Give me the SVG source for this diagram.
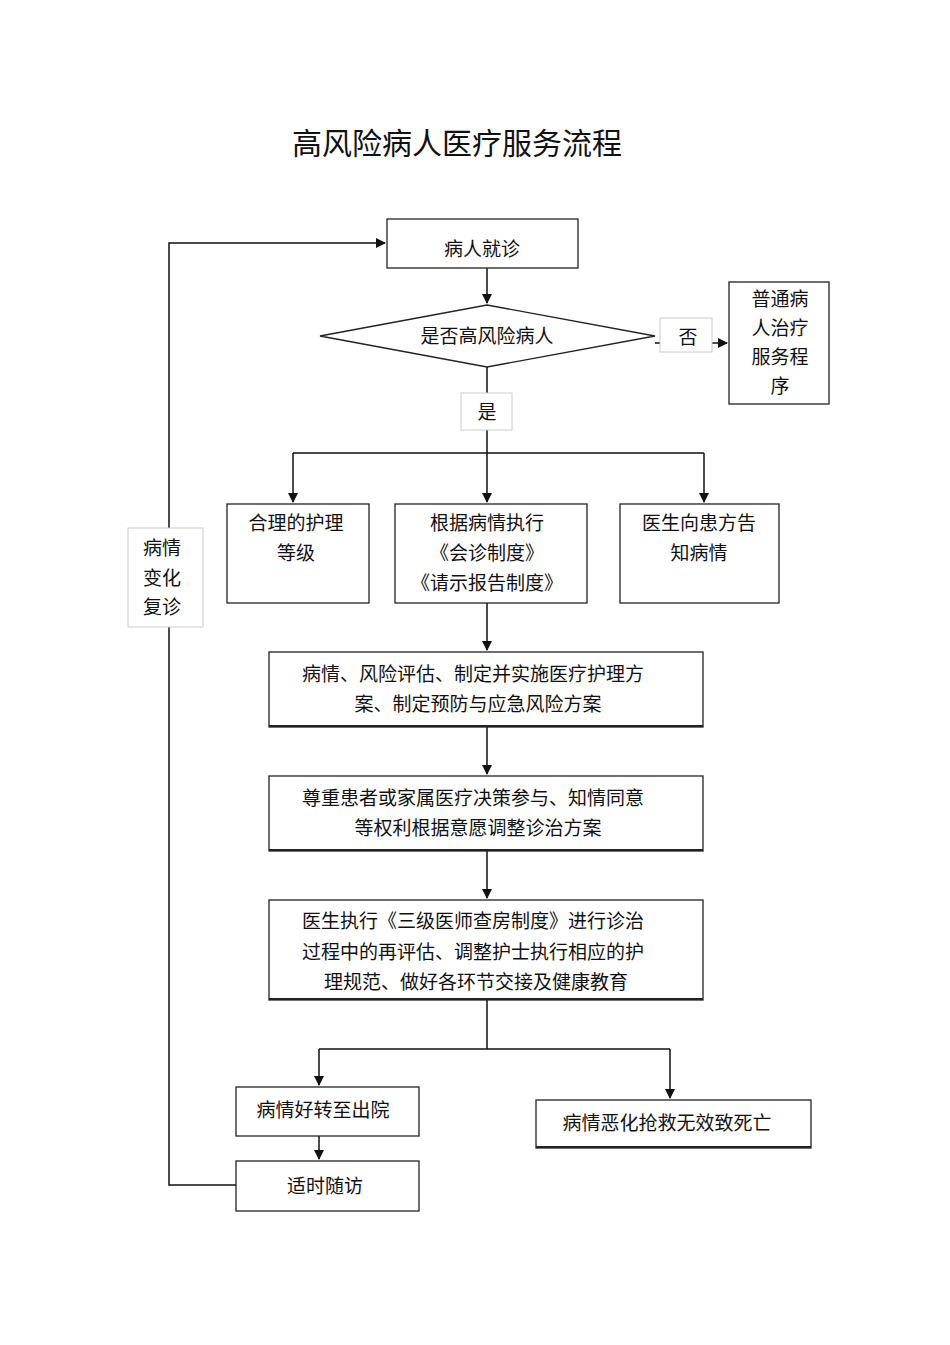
<svg xmlns="http://www.w3.org/2000/svg" width="950" height="1345" viewBox="0 0 950 1345">
<defs>
<style>
text{font-family:"Noto Sans CJK SC","Noto Sans",sans-serif;font-size:19px;fill:#111;text-anchor:middle}
.b{fill:#fff;stroke:#222;stroke-width:1.3}
.t{fill:#fff;stroke:#222;stroke-width:1.3}
.l{fill:#fff;stroke:#ccc;stroke-width:1}
.c{fill:none;stroke:#111;stroke-width:1.5}
</style>
<marker id="a" markerWidth="10" markerHeight="10" refX="9" refY="5" orient="auto" markerUnits="userSpaceOnUse"><path d="M0,0 L10,5 L0,10 Z" fill="#111"/></marker>
</defs>
<rect width="950" height="1345" fill="#fff"/>
<text x="457" y="154" style="font-size:30px">高风险病人医疗服务流程</text>
<g id="connectors">
<path class="c" d="M487,268 V303" marker-end="url(#a)"/>
<path class="c" d="M655,343 H727" marker-end="url(#a)"/>
<path class="c" d="M487,367 V453"/>
<path class="c" d="M293,453 H704"/>
<path class="c" d="M293,453 V502" marker-end="url(#a)"/>
<path class="c" d="M487,453 V502" marker-end="url(#a)"/>
<path class="c" d="M704,453 V502" marker-end="url(#a)"/>
<path class="c" d="M487,603 V650" marker-end="url(#a)"/>
<path class="c" d="M487,727 V774" marker-end="url(#a)"/>
<path class="c" d="M487,851 V898" marker-end="url(#a)"/>
<path class="c" d="M487,1000 V1049 M319,1049 H670"/>
<path class="c" d="M319,1049 V1085" marker-end="url(#a)"/>
<path class="c" d="M670,1049 V1098" marker-end="url(#a)"/>
<path class="c" d="M319,1136 V1159" marker-end="url(#a)"/>
<path class="c" d="M236,1185 H169 V243 H385" marker-end="url(#a)"/>
</g>
<g id="n1"><rect class="b" x="387" y="219" width="191" height="49"/><text x="482" y="256">病人就诊</text></g>
<g id="n2"><polygon class="b" points="320,336 487,305 655,336 487,367"/><text x="487" y="343">是否高风险病人</text></g>
<g id="lno"><rect class="l" x="660" y="318" width="52" height="34"/><text x="688" y="344">否</text></g>
<g id="n3"><rect class="b" x="729" y="282" width="100" height="122"/><text x="780" y="306">普通病</text><text x="780" y="335">人治疗</text><text x="780" y="364">服务程</text><text x="780" y="393">序</text></g>
<g id="lyes"><rect class="l" x="461" y="393" width="51" height="37"/><text x="487" y="419">是</text></g>
<g id="n4"><rect class="b" x="227" y="504" width="142" height="99"/><text x="296" y="530">合理的护理</text><text x="296" y="560">等级</text></g>
<g id="n5"><rect class="b" x="395" y="504" width="192" height="99"/><text x="487" y="530">根据病情执行</text><text x="487" y="560">《会诊制度》</text><text x="487" y="590">《请示报告制度》</text></g>
<g id="n6"><rect class="b" x="620" y="504" width="159" height="99"/><text x="699" y="530">医生向患方告</text><text x="699" y="560">知病情</text></g>
<g id="n7"><rect class="t" x="269" y="652" width="434" height="75"/><line x1="269" y1="726" x2="703" y2="726" stroke="#222" stroke-width="2"/><text x="473" y="681">病情、风险评估、制定并实施医疗护理方</text><text x="478" y="711">案、制定预防与应急风险方案</text></g>
<g id="n8"><rect class="t" x="269" y="776" width="434" height="75"/><line x1="269" y1="850" x2="703" y2="850" stroke="#222" stroke-width="2"/><text x="473" y="805">尊重患者或家属医疗决策参与、知情同意</text><text x="478" y="835">等权利根据意愿调整诊治方案</text></g>
<g id="n9"><rect class="t" x="269" y="900" width="434" height="100"/><line x1="269" y1="999" x2="703" y2="999" stroke="#222" stroke-width="2"/><text x="473" y="928">医生执行《三级医师查房制度》进行诊治</text><text x="473" y="959">过程中的再评估、调整护士执行相应的护</text><text x="476" y="989">理规范、做好各环节交接及健康教育</text></g>
<g id="n10"><rect class="b" x="236" y="1087" width="183" height="49"/><text x="323" y="1117">病情好转至出院</text></g>
<g id="n11"><rect class="b" x="536" y="1100" width="275" height="48"/><line x1="536" y1="1147" x2="811" y2="1147" stroke="#222" stroke-width="2"/><text x="667" y="1130">病情恶化抢救无效致死亡</text></g>
<g id="n12"><rect class="b" x="236" y="1161" width="183" height="50"/><text x="325" y="1193">适时随访</text></g>
<g id="lback"><rect class="l" x="128" y="528" width="75" height="99"/><text x="162" y="555">病情</text><text x="162" y="585">变化</text><text x="162" y="614">复诊</text></g>
</svg>
